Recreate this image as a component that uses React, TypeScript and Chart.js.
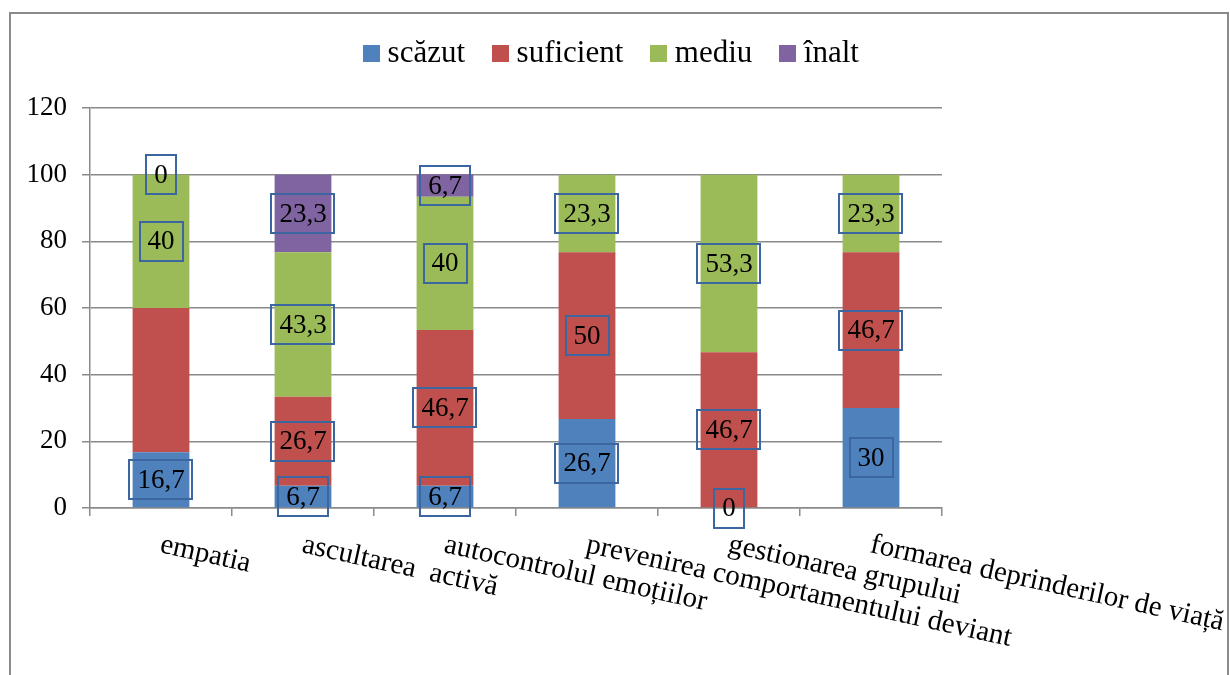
import React, { useEffect, useRef } from "react";
import { Chart, registerables } from "chart.js";

Chart.register(...registerables);

const FONT = "'Times New Roman', 'Liberation Serif', serif";

const categories = [
  "empatia",
  "ascultarea  activă",
  "autocontrolul emoțiilor",
  "prevenirea comportamentului deviant",
  "gestionarea grupului",
  "formarea deprinderilor de viață",
];

const seriesNames = ["scăzut", "suficient", "mediu", "înalt"];
const seriesColors = ["#4F81BD", "#C0504D", "#9BBB59", "#8064A2"];

const scazut = [16.7, 6.7, 6.7, 26.7, 0, 30];
const suficient = [43.3, 26.7, 46.7, 50, 46.7, 46.7];
const mediu = [40, 43.3, 40, 23.3, 53.3, 23.3];
const inalt = [0, 23.3, 6.7, 0, 0, 0];

// segments that carry a boxed value label
const showScazut = [true, true, true, true, true, true];
const showSuficient = [false, true, true, true, true, true];
const showMediu = [true, true, true, true, true, true];
const showInalt = [true, true, true, false, false, false];

const yMin = 0;
const yMax = 120;
const yStep = 20;

const GRID = "#8a8a8a";

const fmt = (v: number) => String(v).replace(".", ",");

// small square swatch used as the legend marker
function swatch(color: string): HTMLCanvasElement {
  const c = document.createElement("canvas");
  c.width = 17;
  c.height = 17;
  const g = c.getContext("2d")!;
  g.fillStyle = color;
  g.fillRect(0, 0, 17, 17);
  return c;
}

// boxed value labels centred on each stacked segment
const valueBoxes = {
  id: "valueBoxes",
  afterDatasetsDraw(chart: any) {
    const ctx = chart.ctx;
    const flags = [showScazut, showSuficient, showMediu, showInalt];
    ctx.save();
    ctx.font = `27px ${FONT}`;
    ctx.textAlign = "center";
    ctx.textBaseline = "middle";
    chart.data.datasets.forEach((ds: any, i: number) => {
      const meta = chart.getDatasetMeta(i);
      meta.data.forEach((el: any, j: number) => {
        if (!flags[i][j]) return;
        const { x, y, base } = el.getProps(["x", "y", "base"], true);
        const cy = (y + base) / 2;
        const text = fmt(ds.data[j]);
        const w = ctx.measureText(text).width + 16;
        const h = 39;
        ctx.fillStyle = "#000";
        ctx.fillText(text, x, cy + 1);
        ctx.strokeStyle = "#3b66a0";
        ctx.lineWidth = 2;
        ctx.strokeRect(Math.round(x - w / 2), Math.round(cy - h / 2), Math.round(w), h);
      });
    });
    ctx.restore();
  },
};

// slanted category labels, starting at each category centre
const slantedLabels = {
  id: "slantedLabels",
  afterDraw(chart: any) {
    const ctx = chart.ctx;
    const xs = chart.scales.x;
    const angle = (12.5 * Math.PI) / 180;
    ctx.save();
    ctx.font = `29px ${FONT}`;
    ctx.fillStyle = "#000";
    ctx.textAlign = "left";
    ctx.textBaseline = "alphabetic";
    chart.data.labels.forEach((label: string, i: number) => {
      const px = xs.getPixelForTick(i);
      ctx.save();
      ctx.translate(px - 2, xs.top + 44);
      ctx.rotate(angle);
      ctx.fillText(label, 0, 0);
      ctx.restore();
    });
    ctx.restore();
  },
};

export default function App() {
  const ref = useRef<HTMLCanvasElement | null>(null);

  useEffect(() => {
    if (!ref.current) return;
    const values = [scazut, suficient, mediu, inalt];
    const swatches = seriesColors.map(swatch);
    const chart = new Chart(ref.current, {
      type: "bar",
      data: {
        labels: categories,
        datasets: seriesNames.map((name, i) => ({
          label: name,
          data: values[i],
          backgroundColor: seriesColors[i],
          borderWidth: 0,
          barPercentage: 0.4,
          categoryPercentage: 1,
        })),
      },
      options: {
        responsive: false,
        animation: false,
        layout: { padding: { top: 3, left: 0, right: 0, bottom: 0 } },
        plugins: {
          tooltip: { enabled: false },
          legend: {
            position: "top",
            align: "center",
            labels: {
              usePointStyle: true,
              boxWidth: 1,
              boxHeight: 17,
              padding: 35,
              color: "#000",
              font: { family: FONT, size: 31 },
              generateLabels: (c: any) => {
                const items = Chart.defaults.plugins.legend.labels.generateLabels(c);
                items.forEach((it: any, i: number) => {
                  it.pointStyle = swatches[i];
                });
                return items;
              },
            },
          },
          // empty spacer between the legend and the plot
          subtitle: {
            display: true,
            text: "",
            weight: 500,
            font: { size: 9, lineHeight: 1 },
            padding: { top: 0, bottom: 20 },
          },
        },
        scales: {
          x: {
            stacked: true,
            grid: {
              offset: true,
              drawOnChartArea: false,
              drawTicks: true,
              tickLength: 8,
              color: GRID,
              lineWidth: 1.5,
            },
            border: { display: true, color: GRID, width: 1.5 },
            ticks: { display: false },
            afterFit: (s: any) => {
              s.height = 167;
              s.paddingLeft = 0;
              s.paddingRight = 288;
            },
          },
          y: {
            stacked: true,
            min: yMin,
            max: yMax,
            ticks: {
              stepSize: yStep,
              color: "#000",
              padding: 15,
              font: { family: FONT, size: 27 },
            },
            grid: { color: GRID, lineWidth: 1.5, tickLength: 8, drawTicks: true },
            border: { display: true, color: GRID, width: 1.5 },
            afterFit: (s: any) => {
              s.width = 90;
              s.paddingTop = 108;
            },
          },
        },
      } as any,
      plugins: [valueBoxes, slantedLabels],
    });
    return () => chart.destroy();
  }, []);

  return (
    <div
      style={{
        position: "fixed",
        left: 0,
        top: 0,
        width: 1230,
        height: 675,
        overflow: "hidden",
        background: "#fff",
      }}
    >
      <div
        style={{
          position: "absolute",
          left: 9,
          top: 12,
          width: 1220,
          height: 720,
          border: `2px solid ${GRID}`,
          boxSizing: "border-box",
        }}
      />
      <canvas
        ref={ref}
        width={1230}
        height={675}
        style={{ position: "absolute", left: 0, top: 0 }}
      />
    </div>
  );
}
